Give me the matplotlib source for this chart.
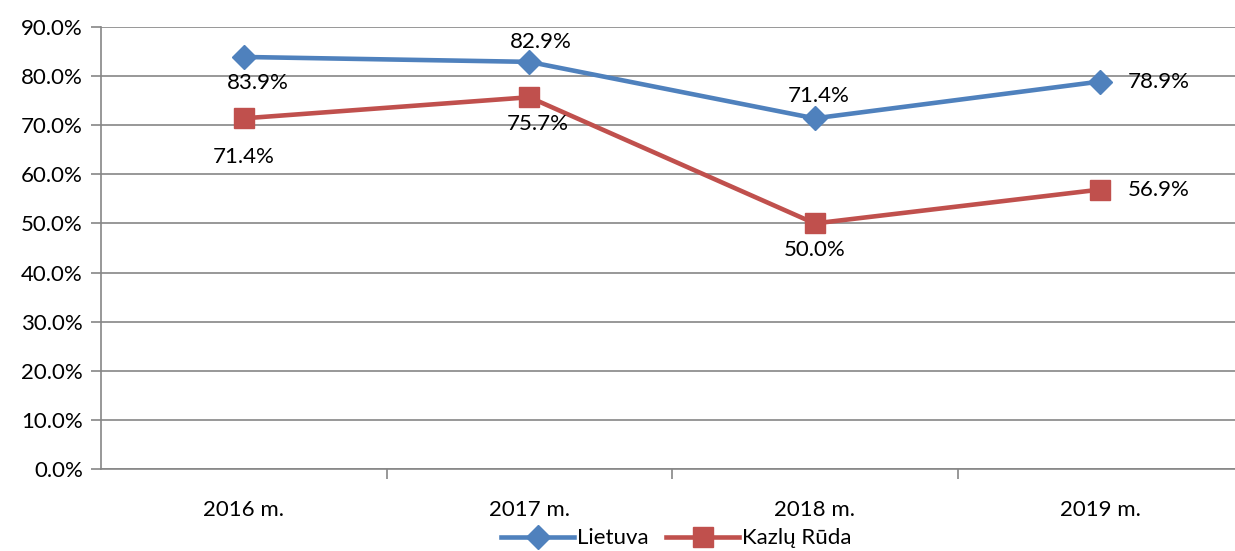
import matplotlib
matplotlib.use("Agg")
import matplotlib.pyplot as plt
from matplotlib.ticker import FuncFormatter

years = ['2016 m.', '2017 m.', '2018 m.', '2019 m.']
lietuva = [83.9, 82.9, 71.4, 78.9]
kazlu_ruda = [71.4, 75.7, 50.0, 56.9]

# label offsets in pixels (dx, dy) relative to the point
lt_offsets = [(14, -26), (12, 20), (4, 22), (58, 0)]
kr_offsets = [(0, -39), (8, -27), (0, -27), (58, 0)]

plt.rcParams['font.family'] = ['Lato', 'DejaVu Sans']
FS = 16

fig = plt.figure(figsize=(12.35, 5.51), dpi=100)
ax = fig.add_axes([101 / 1235, 1 - 469 / 551, 1142 / 1235, 442 / 551])

x = range(len(years))
blue = '#4F81BD'
red = '#C0504D'
ax.plot(x, lietuva, color=blue, linewidth=3.3, marker='D', markersize=12,
        label='Lietuva', zorder=3)
ax.plot(x, kazlu_ruda, color=red, linewidth=3.3, marker='s', markersize=14,
        label='Kazlų Rūda', zorder=3)

for i, v in enumerate(lietuva):
    dx, dy = lt_offsets[i]
    ax.annotate(f'{v:.1f}%', (i, v), xytext=(dx * 0.72, dy * 0.72),
                textcoords='offset points', ha='center', va='center', fontsize=FS)
for i, v in enumerate(kazlu_ruda):
    dx, dy = kr_offsets[i]
    ax.annotate(f'{v:.1f}%', (i, v), xytext=(dx * 0.72, dy * 0.72),
                textcoords='offset points', ha='center', va='center', fontsize=FS)

ax.set_xlim(-0.5, 3.5)
ax.set_ylim(0, 90)
ax.set_yticks(range(0, 91, 10))
ax.yaxis.set_major_formatter(FuncFormatter(lambda v, p: f'{v:.1f}%'))
ax.set_xticks(list(x))
ax.set_xticklabels(years)
ax.set_xticks([0.5, 1.5, 2.5], minor=True)
ax.tick_params(axis='x', which='major', length=0, pad=22, labelsize=FS)
ax.tick_params(axis='x', which='minor', length=7, color='#868686', width=1.2)
ax.tick_params(axis='y', length=7, color='#868686', width=1.2, labelsize=FS, pad=6)

ax.grid(axis='y', color='#868686', linewidth=1.2)
ax.set_axisbelow(True)
for s in ['top', 'right']:
    ax.spines[s].set_visible(False)
for s in ['left', 'bottom']:
    ax.spines[s].set_color('#868686')
    ax.spines[s].set_linewidth(1.2)

ax.legend(loc='lower center', bbox_to_anchor=(575 / 1142, -0.225), ncol=2, frameon=False,
          fontsize=FS, handlelength=3.3, handletextpad=0.1, columnspacing=0.8)

fig.savefig('out.png', dpi=100)
